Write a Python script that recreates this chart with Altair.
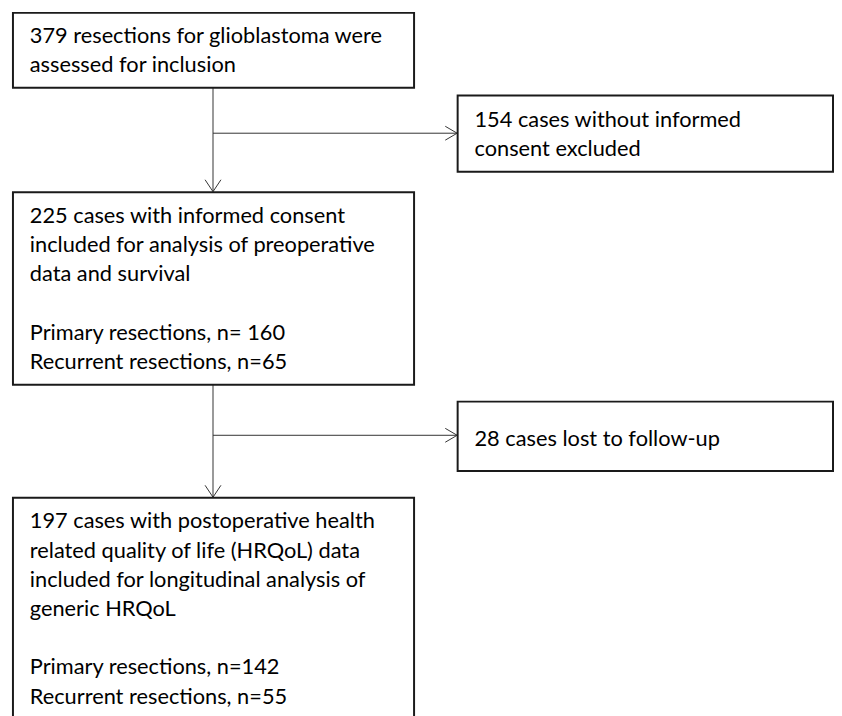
import altair as alt
import pandas as pd

# ---- content -------------------------------------------------------------
box_texts = [
    ["379 resections for glioblastoma were", "assessed for inclusion"],
    ["154 cases without informed", "consent excluded"],
    ["225 cases with informed consent", "included for analysis of preoperative",
     "data and survival", "", "Primary resections, n= 160", "Recurrent resections, n=65"],
    ["28 cases lost to follow-up"],
    ["197 cases with postoperative health", "related quality of life (HRQoL) data",
     "included for longitudinal analysis of", "generic HRQoL", "",
     "Primary resections, n=142", "Recurrent resections, n=55"],
]

# ---- layout (pixel coordinates of the page) -----------------------------
box_left = [13, 462, 13, 462, 13]
box_right = [418, 841, 418, 841, 418]
box_top = [9.5, 93, 190.5, 402, 499]
box_bottom = [85, 170, 385, 472, 780]
first_baseline = [30, 32, 31, 45, 31]
line_step = 29.5
text_pad = 17
trunk_x = 215
branch_y = [131, 436]

boxes = pd.DataFrame({"x": box_left, "x2": box_right, "y": box_top, "y2": box_bottom})

rows = []
for i, lines in enumerate(box_texts):
    for j, t in enumerate(lines):
        if t:
            rows.append({"text": t, "x": box_left[i] + text_pad,
                         "y": box_top[i] + first_baseline[i] + j * line_step})
texts = pd.DataFrame(rows)

segs = []
# vertical trunk segments between main boxes
for a, b in [(0, 2), (2, 4)]:
    segs.append((trunk_x, box_bottom[a], trunk_x, box_top[b] - 0.5))
    tip = box_top[b] - 0.5
    segs.append((trunk_x - 8, tip - 12, trunk_x, tip))
    segs.append((trunk_x + 8, tip - 12, trunk_x, tip))
# horizontal branches to side boxes
for by, side in zip(branch_y, [1, 3]):
    tip = box_left[side] - 0.5
    segs.append((trunk_x, by, tip, by))
    segs.append((tip - 12, by - 7, tip, by))
    segs.append((tip - 12, by + 7, tip, by))
lines_df = pd.DataFrame(segs, columns=["x", "y", "x2", "y2"])

W, H = 834, 708
xs = alt.Scale(domain=[8, 8 + W])
ys = alt.Scale(domain=[8 + H, 8])

rules = alt.Chart(lines_df).mark_rule(color="#333333", strokeWidth=1).encode(
    x=alt.X("x:Q", scale=xs, axis=None), x2="x2:Q",
    y=alt.Y("y:Q", scale=ys, axis=None), y2="y2:Q")

rects = alt.Chart(boxes).mark_rect(fill="white", stroke="#1a1a1a", strokeWidth=2).encode(
    x=alt.X("x:Q", scale=xs, axis=None), x2="x2:Q",
    y=alt.Y("y:Q", scale=ys, axis=None), y2="y2:Q")

labels = alt.Chart(texts).mark_text(
    align="left", baseline="alphabetic", font="Lato", fontSize=22, color="#000000"
).encode(
    x=alt.X("x:Q", scale=xs, axis=None),
    y=alt.Y("y:Q", scale=ys, axis=None),
    text="text:N")

chart = alt.layer(rules, rects, labels).properties(
    width=W, height=H, padding=0, autosize=alt.AutoSizeParams(type="none"),
    background="white"
).configure_view(stroke=None)

chart.save("out.html", embed_options={"renderer": "svg", "actions": False})
